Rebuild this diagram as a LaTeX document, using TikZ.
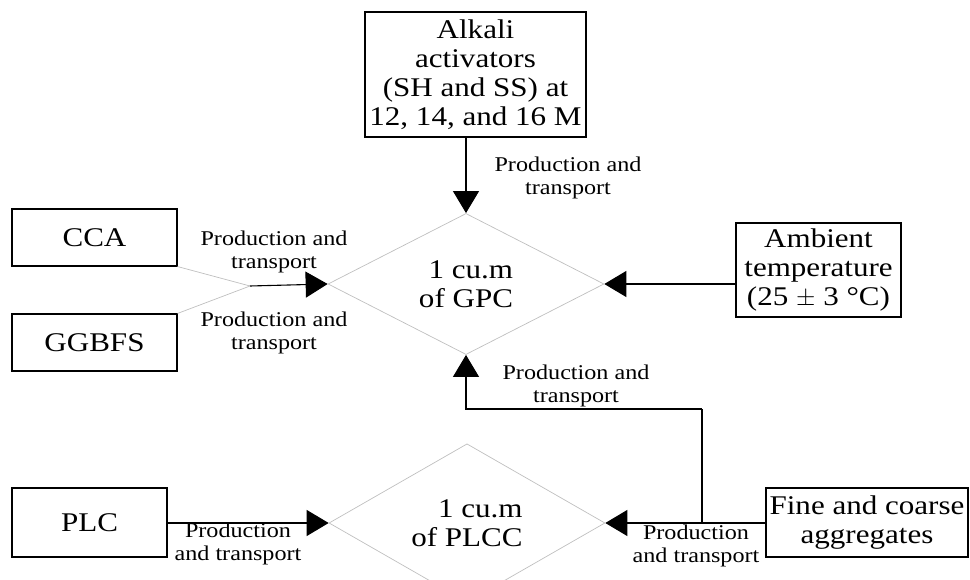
\documentclass[tikz,border=0pt]{standalone}
\usepackage{fontspec}
\setmainfont{Liberation Serif}[FakeStretch=1.15]
\usepackage{tikz}
\usetikzlibrary{arrows.meta,positioning,shapes.geometric}
\tikzset{
  gpcpicture/.style={x=1pt, y=-1pt},
  gpcbox/.style={draw, line width=1.1pt, align=center, inner sep=2pt, font=\fontsize{27}{29}\selectfont},
  gpcmix/.style={diamond, draw=gray!50, line width=0.7pt, align=right, inner sep=0pt, minimum width=276pt, minimum height=132pt, font=\fontsize{27}{29}\selectfont},
  gpcnote/.style={align=center, inner sep=0pt, font=\fontsize{21}{23}\selectfont},
  gpcarrow/.style={-{Triangle[length=22pt, width=26pt]}, line width=1.1pt},
  gpcline/.style={line width=1.1pt},
  gpcfeed/.style={draw=gray!50, line width=0.7pt}
}
\begin{document}
\begin{tikzpicture}[gpcpicture]
\useasboundingbox (0,0) rectangle (970,580);
\node[gpcmix] (gpc) at (466,284) {1 cu.m\\of GPC};
\node[gpcmix] (plcc) at (467,523) {1 cu.m\\of PLCC};
\node[gpcbox, minimum width=221pt, minimum height=125pt] (alkali) at (475.5,74.5) {Alkali\\activators\\(SH and SS) at\\12, 14, and 16 M};
\node[gpcbox, minimum width=165pt, minimum height=57pt] (cca) at (94.5,237.5) {CCA};
\node[gpcbox, minimum width=165pt, minimum height=57pt] (ggbfs) at (94.5,342.5) {GGBFS};
\node[gpcbox, minimum width=165pt, minimum height=94pt] (ambient) at (818.5,270) {Ambient\\temperature\\(25 $\pm$ 3 °C)};
\node[gpcbox, minimum width=155pt, minimum height=69pt] (plc) at (89.5,522.5) {PLC};
\node[gpcbox, minimum width=202pt, minimum height=69pt] (fine) at (867,522.5) {Fine and coarse\\aggregates};
\coordinate (merge) at (250,286);
\coordinate (split) at (702,523);
\coordinate (bend) at (702,409);
% connectors
\draw[gpcarrow] (alkali.south -| gpc.north) -- (gpc.north);
\draw[gpcfeed] (cca.south east) -- (merge);
\draw[gpcfeed] (ggbfs.north east) -- (merge);
\draw[gpcarrow] (merge) -- (gpc.west);
\draw[gpcarrow] (ambient.west |- gpc.east) -- (gpc.east);
\draw[gpcarrow] (plc.east |- plcc.west) -- (plcc.west);
\draw[gpcarrow] (fine.west |- plcc.east) -- (plcc.east);
\draw[gpcline] (split) -- (bend);
\draw[gpcarrow] (bend) -| (gpc.south);
% labels
\node[gpcnote] (ltop) at (568,178) {Production and\\transport};
\node[gpcnote] (lcca) at (274,252) {Production and\\transport};
\node[gpcnote] (lggbfs) at (274,333) {Production and\\transport};
\node[gpcnote] (lback) at (576,386) {Production and\\transport};
\node[gpcnote] (lplc) at (238,544) {Production\\and transport};
\node[gpcnote] (lfine) at (696,546) {Production\\and transport};
\end{tikzpicture}
\end{document}
